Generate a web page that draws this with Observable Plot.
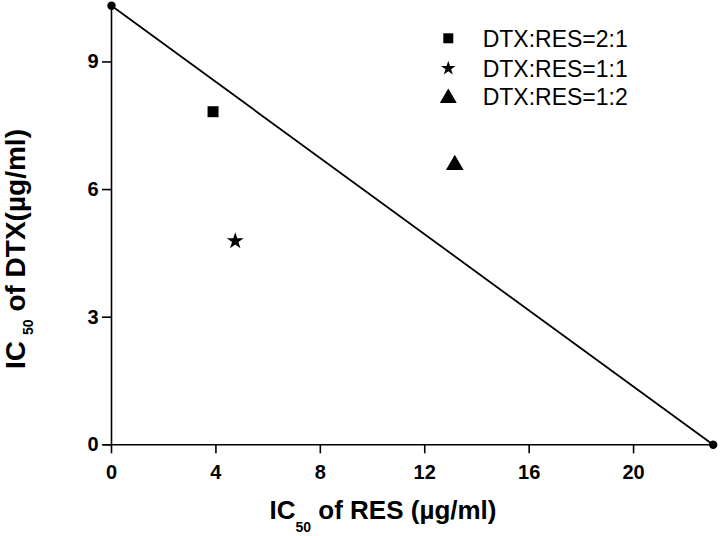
<!DOCTYPE html>
<html>
<head>
<meta charset="utf-8">
<script src="https://cdn.jsdelivr.net/npm/d3@7"></script>
<script src="https://cdn.jsdelivr.net/npm/@observablehq/plot@0.6"></script>
<style>
  html, body { margin: 0; padding: 0; background: #fff; }
  #chart svg { display: block; }
</style>
</head>
<body>
<div id="chart"></div>
<script>
// Data
const ratios = ["DTX:RES=2:1", "DTX:RES=1:1", "DTX:RES=1:2"];
const resIC50 = [3.89, 4.74, 13.15];   // x: IC50 of RES (µg/ml)
const dtxIC50 = [7.83, 4.79, 6.58];    // y: IC50 of DTX (µg/ml)
const ratioSymbols = ["square", "star", "triangle"];

// additivity line: single-drug IC50 intercepts
const lineRES = [0, 23.05];
const lineDTX = [10.32, 0];

const xTicks = [0, 4, 8, 12, 16, 20];
const yTicks = [0, 3, 6, 9];

const points = ratios.map((r, i) => ({ratio: r, res: resIC50[i], dtx: dtxIC50[i], symbol: ratioSymbols[i]}));
const lineData = lineRES.map((v, i) => ({res: v, dtx: lineDTX[i]}));
const symbolR = {square: 6.2, star: 5.3, triangle: 6.6};

const font = "Arial, 'Liberation Sans', Helvetica, sans-serif";

const chart = Plot.plot({
  width: 722,
  height: 536,
  marginLeft: 111,
  marginRight: 9.3,
  marginTop: 5.3,
  marginBottom: 91.7,
  style: {fontFamily: font, background: "#fff", color: "#000"},
  x: {domain: [0, 23.05], ticks: xTicks},
  y: {domain: [0, 10.32], ticks: yTicks},
  marks: [
    Plot.ruleY([0], {stroke: "#000", strokeWidth: 1.6, insetLeft: -8}),
    Plot.ruleX([0], {stroke: "#000", strokeWidth: 1.6}),
    Plot.axisX({ticks: xTicks, tickSize: 9, tickPadding: 11, fontSize: 20, fontWeight: "bold", label: null, stroke: "#000", strokeWidth: 1.6, fill: "#000"}),
    Plot.axisY({ticks: yTicks, tickSize: 9, tickPadding: 4, fontSize: 20, fontWeight: "bold", label: null, stroke: "#000", strokeWidth: 1.6, fill: "#000"}),
    Plot.line(lineData, {x: "res", y: "dtx", stroke: "#000", strokeWidth: 1.8}),
    Plot.dot(lineData, {x: "res", y: "dtx", r: 4.2, fill: "#000", stroke: "none"}),
    ...ratioSymbols.map(s => Plot.dot(points.filter(d => d.symbol === s), {x: "res", y: "dtx", symbol: () => s, r: symbolR[s], fill: "#000", stroke: "none"}))
  ]
});

document.getElementById("chart").appendChild(chart);

const svg = d3.select(chart);
svg.selectAll("g[aria-label='x-axis tick label'] text, g[aria-label='y-axis tick label'] text")
  .style("font-weight", "bold");

// x-axis title with subscript
const xt = svg.append("text")
  .attr("x", 383).attr("y", 519)
  .attr("text-anchor", "middle")
  .attr("font-family", font).attr("font-weight", "bold").attr("font-size", 26).attr("fill", "#000");
xt.append("tspan").text("IC");
xt.append("tspan").attr("font-size", 14).attr("dy", 13).text("50");
xt.append("tspan").attr("dy", -13).text(" of RES (µg/ml)");

// y-axis title with subscript
const yt = svg.append("text")
  .attr("transform", "translate(25,249) rotate(-90)")
  .attr("text-anchor", "middle")
  .attr("font-family", font).attr("font-weight", "bold").attr("font-size", 28).attr("fill", "#000");
yt.append("tspan").text("IC");
yt.append("tspan").attr("font-size", 14).attr("dy", 8).attr("dx", 6).text("50");
yt.append("tspan").attr("dy", -8).text(" of DTX(µg/ml)");

// legend
const legendSym = {
  square: d3.symbol(d3.symbolSquare, 100)(),
  star: d3.symbol(d3.symbolStar, 66)(),
  triangle: d3.symbol(d3.symbolTriangle, 125)()
};
const legendY = [38.3, 68.3, 96.7];
const lg = svg.append("g").attr("aria-label", "legend");
ratios.forEach((r, i) => {
  lg.append("path")
    .attr("d", legendSym[ratioSymbols[i]])
    .attr("transform", `translate(448.3,${legendY[i] + (ratioSymbols[i] === "triangle" ? 1.5 : 0)})`)
    .attr("fill", "#000");
  lg.append("text")
    .attr("x", 482.7).attr("y", legendY[i]).attr("dy", "0.36em")
    .attr("text-anchor", "start")
    .attr("font-family", font).attr("font-size", 23).attr("fill", "#000")
    .text(r);
});
</script>
</body>
</html>
